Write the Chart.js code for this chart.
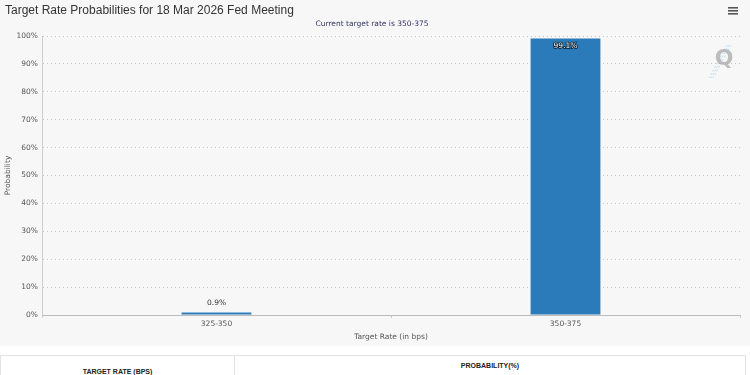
<!DOCTYPE html>
<html>
<head>
<meta charset="utf-8">
<script src="https://cdn.jsdelivr.net/npm/chart.js@4.4.1/dist/chart.umd.min.js"></script>
<style>
  html, body { margin: 0; padding: 0; background: #ffffff; }
  body { width: 750px; height: 375px; overflow: hidden; font-family: "Liberation Sans", Arial, sans-serif; }
  .wrap { width: 750px; height: 346px; background: #f7f7f7; }
  canvas { display: block; }
  table { margin-top: 9px; width: 746px; border-collapse: collapse; font-size: 7px; font-weight: bold; color: #222; }
  td { border: 1px solid #e3e3e3; height: 30px; vertical-align: top; text-align: center; }
</style>
</head>
<body>
<div class="wrap"><canvas id="chart" width="750" height="346"></canvas></div>
<table>
  <tr>
    <td style="width:231px; padding-top:12px;">TARGET RATE (BPS)</td>
    <td style="padding-top:6px;">PROBABILITY(%)</td>
  </tr>
</table>
<script>
const chartTitle = 'Target Rate Probabilities for 18 Mar 2026 Fed Meeting';
const chartSubtitle = 'Current target rate is 350-375';
const targetRates = ['325-350', '350-375'];
const probabilities = [0.9, 99.1];
const yTicks = [0, 10, 20, 30, 40, 50, 60, 70, 80, 90, 100];

const tickFont = { family: 'DejaVu Sans', size: 7.5 };

const decorations = {
    id: 'decorations',
    afterDraw(chart) {
        const ctx = chart.ctx;
        ctx.save();
        // title and subtitle
        ctx.fillStyle = '#333333';
        ctx.font = '12px "Liberation Sans", Arial, sans-serif';
        ctx.textBaseline = 'middle';
        ctx.textAlign = 'left';
        ctx.fillText(chartTitle, 5, 11);
        ctx.fillStyle = '#333366';
        ctx.font = '7.5px "DejaVu Sans"';
        ctx.textAlign = 'center';
        ctx.fillText(chartSubtitle, 372, 24);
        // menu icon
        ctx.fillStyle = '#555555';
        for (let i = 0; i < 3; i++) {
            ctx.fillRect(728, 7 + i * 3, 10, 1.6);
        }
        // watermark
        ctx.strokeStyle = 'rgba(120,190,230,0.45)';
        ctx.lineWidth = 1;
        ctx.setLineDash([2, 2]);
        for (let k = 0; k < 3; k++) {
            ctx.beginPath();
            ctx.moveTo(727 + k * 2, 45);
            ctx.lineTo(709 + k * 2, 78);
            ctx.stroke();
        }
        ctx.setLineDash([]);
        ctx.fillStyle = 'rgba(150,150,150,0.6)';
        ctx.font = 'bold 22px "DejaVu Sans"';
        ctx.fillText('Q', 724, 59);
        // value labels
        const meta = chart.getDatasetMeta(0);
        ctx.font = '7.5px "DejaVu Sans"';
        ctx.textAlign = 'center';
        meta.data.forEach((bar, i) => {
            const txt = probabilities[i] + '%';
            let y = bar.y - 9;
            if (y < chart.chartArea.top + 6) {
                y = bar.y + 8;
                ctx.lineWidth = 1.5;
                ctx.strokeStyle = 'rgba(0,0,0,0.8)';
                ctx.strokeText(txt, bar.x, y);
                ctx.fillStyle = '#ffffff';
            } else {
                ctx.fillStyle = '#333333';
            }
            ctx.fillText(txt, bar.x, y);
        });
        ctx.restore();
    }
};

new Chart(document.getElementById('chart'), {
    type: 'bar',
    data: {
        labels: targetRates,
        datasets: [{
            data: probabilities,
            backgroundColor: '#2b7bba',
            categoryPercentage: 0.2,
            barPercentage: 1
        }]
    },
    options: {
        responsive: false,
        animation: false,
        devicePixelRatio: 1,
        layout: { padding: { top: 36, right: 10, left: 0, bottom: 0 } },
        plugins: {
            legend: { display: false },
            tooltip: { enabled: false }
        },
        scales: {
            x: {
                grid: { display: true, drawOnChartArea: false, drawTicks: true, tickLength: 3, color: '#cccccc' },
                border: { color: '#bbbbbb' },
                ticks: { color: '#555555', font: tickFont, padding: 2 },
                title: { display: true, text: 'Target Rate (in bps)', color: '#555555', font: tickFont, padding: { top: 3 } },
                afterFit(scale) { scale.height = 31; }
            },
            y: {
                min: 0,
                max: 100,
                afterBuildTicks(scale) { scale.ticks = yTicks.map(v => ({ value: v })); },
                grid: { color: '#c8c8c8', drawTicks: false },
                border: { color: '#cccccc', dash: [1, 3] },
                ticks: { color: '#555555', font: tickFont, padding: 4, autoSkip: false, callback: v => v + '%' },
                title: { display: true, text: 'Probability', color: '#555555', font: tickFont },
                afterFit(scale) { scale.width = 42; }
            }
        }
    },
    plugins: [decorations]
});
</script>
</body>
</html>
